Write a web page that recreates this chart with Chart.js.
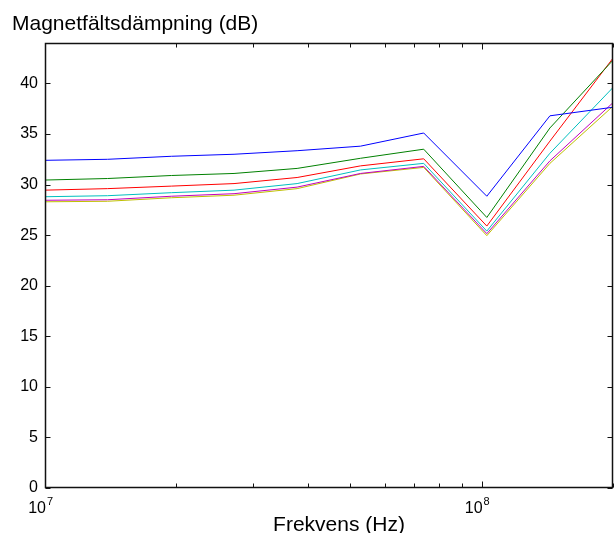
<!DOCTYPE html>
<html>
<head>
<meta charset="utf-8">
<script src="https://cdn.jsdelivr.net/npm/chart.js@4/dist/chart.umd.min.js"></script>
<style>
  html, body { margin: 0; padding: 0; background: #fff; }
  canvas { display: block; }
</style>
</head>
<body>
<canvas id="c" width="615" height="533"></canvas>
<script>
// Measurement frequencies (Hz)
const freqHz = [10.0e6, 13.9e6, 19.5e6, 27.1e6, 37.8e6, 52.8e6, 73.7e6, 102.8e6, 143.4e6, 200e6];

// Magnetic field attenuation (dB), one array per curve
const curveBlue    = [32.4, 32.5, 32.8, 33.0, 33.35, 33.8, 35.1, 28.85, 36.8, 37.65];
const curveGreen   = [30.45, 30.6, 30.9, 31.1, 31.6, 32.6, 33.5, 26.75, 35.6, 42.3];
const curveRed     = [29.45, 29.6, 29.85, 30.1, 30.7, 31.85, 32.55, 25.9, 34.3, 42.5];
const curveCyan    = [28.8, 28.9, 29.2, 29.45, 30.1, 31.45, 32.1, 25.4, 33.1, 39.6];
const curveMagenta = [28.45, 28.5, 28.85, 29.1, 29.75, 31.1, 31.8, 25.15, 32.35, 38.1];
const curveYellow  = [28.3, 28.35, 28.7, 28.95, 29.6, 31.05, 31.7, 24.95, 32.1, 37.75];

// Axis ticks
const yTickValues = [0, 5, 10, 15, 20, 25, 30, 35, 40];
const xMajorTicks = [1e7, 1e8];
const xMinorTicks = [2e7, 3e7, 4e7, 5e7, 6e7, 7e7, 8e7, 9e7, 2e8];

const chartTitle = 'Magnetfältsdämpning (dB)';
const xAxisTitle = 'Frekvens (Hz)';

const FONT = '"Liberation Sans", Arial, Helvetica, sans-serif';
Chart.defaults.font.family = FONT;
Chart.defaults.color = '#000';

const curves = [
  { values: curveBlue,    color: '#0000ff' },
  { values: curveGreen,   color: '#008000' },
  { values: curveRed,     color: '#ff0000' },
  { values: curveCyan,    color: '#00bfbf' },
  { values: curveMagenta, color: '#bf00bf' },
  { values: curveYellow,  color: '#bfbf00' }
];

// Boxed axes with inward tick marks, exponent labels and the titles
const framePlugin = {
  id: 'frame',
  afterDraw(chart) {
    const { ctx, chartArea: a, scales: { x, y } } = chart;
    ctx.save();
    ctx.strokeStyle = '#111';
    ctx.lineWidth = 1.5;
    ctx.beginPath();
    const L = Math.round(a.left) + 0.5, R = Math.round(a.right) - 0.5;
    const T = Math.round(a.top) + 0.5, B = Math.round(a.bottom) - 0.5;
    ctx.rect(L, T, R - L, B - T);
    ctx.stroke();

    ctx.lineWidth = 1;
    ctx.beginPath();
    // y ticks, left and right
    yTickValues.forEach(v => {
      const py = Math.round(y.getPixelForValue(v)) + 0.5;
      ctx.moveTo(L, py); ctx.lineTo(L + 5, py);
      ctx.moveTo(R, py); ctx.lineTo(R - 5, py);
    });
    // x ticks, bottom and top
    const xt = (v, len) => {
      const px = Math.round(x.getPixelForValue(v)) + 0.5;
      ctx.moveTo(px, B); ctx.lineTo(px, B - len);
      ctx.moveTo(px, T); ctx.lineTo(px, T + len);
    };
    xMinorTicks.forEach(v => xt(v, 4));
    xMajorTicks.forEach(v => xt(v, 6));
    ctx.stroke();

    // x tick labels as 10^n
    ctx.fillStyle = '#000';
    ctx.textBaseline = 'alphabetic';
    xMajorTicks.forEach(v => {
      const px = x.getPixelForValue(v);
      const exp = String(Math.round(Math.log10(v)));
      ctx.font = '16px ' + FONT;
      ctx.textAlign = 'right';
      ctx.fillText('10', px + 1, 513);
      ctx.font = '11px ' + FONT;
      ctx.textAlign = 'left';
      ctx.fillText(exp, px + 2, 505);
    });

    // x axis title
    ctx.font = '21px ' + FONT;
    ctx.textAlign = 'center';
    ctx.fillText(xAxisTitle, 339, 531);

    // chart title at top left
    ctx.textAlign = 'left';
    ctx.fillText(chartTitle, 12, 30);
    ctx.restore();
  }
};

new Chart(document.getElementById('c'), {
  type: 'line',
  data: {
    datasets: curves.map(c => ({
      data: freqHz.map((f, i) => ({ x: f, y: c.values[i] })),
      borderColor: c.color,
      backgroundColor: c.color,
      borderWidth: 1,
      pointRadius: 0,
      tension: 0,
      fill: false
    }))
  },
  options: {
    responsive: false,
    animation: false,
    devicePixelRatio: 1,
    layout: { padding: { top: 43, right: 2, left: 0, bottom: 0 } },
    plugins: { legend: { display: false }, tooltip: { enabled: false } },
    scales: {
      x: {
        type: 'logarithmic',
        min: 1e7,
        max: 2e8,
        grid: { display: false, drawTicks: false },
        border: { display: false },
        ticks: { display: false },
        afterFit(s) { s.height = 45; }
      },
      y: {
        min: 0,
        max: 44,
        grid: { display: false, drawTicks: false },
        border: { display: false },
        ticks: { stepSize: 5, padding: 7, font: { size: 16 }, color: '#000' },
        afterBuildTicks(s) { s.ticks = yTickValues.map(v => ({ value: v })); },
        afterFit(s) { s.width = 45; }
      }
    }
  },
  plugins: [framePlugin]
});
</script>
</body>
</html>
